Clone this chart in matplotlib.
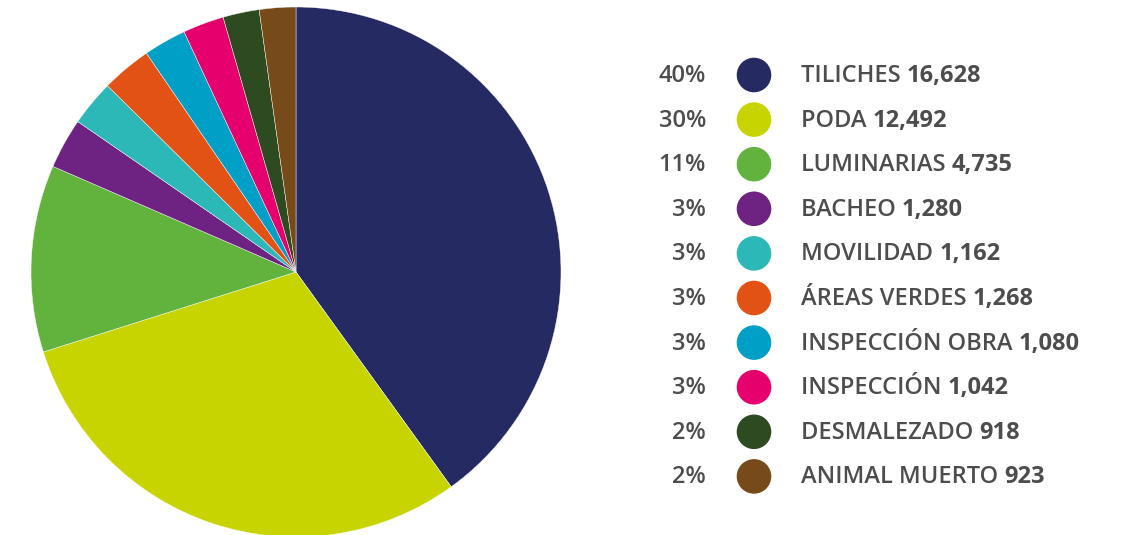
import matplotlib
matplotlib.use("Agg")
import matplotlib.pyplot as plt

# data
categories = ["TILICHES", "PODA", "LUMINARIAS", "BACHEO", "MOVILIDAD",
              "ÁREAS VERDES", "INSPECCIÓN OBRA", "INSPECCIÓN", "DESMALEZADO",
              "ANIMAL MUERTO"]
values = [16628, 12492, 4735, 1280, 1162, 1268, 1080, 1042, 918, 923]
percent_labels = ["40%", "30%", "11%", "3%", "3%", "3%", "3%", "3%", "2%", "2%"]
colors = ["#252b62", "#c8d400", "#62b33e", "#6e2282", "#2db8b8",
          "#e25214", "#00a0c6", "#e6006e", "#2d4a20", "#774a19"]

W, H = 1134, 535
text_color = "#4d4d4d"
font = "Open Sans"
fs = 17

fig = plt.figure(figsize=(W / 100, H / 100), dpi=100)

# pie: centre (296, 272) px, radius 265 px
cx, cy, r = 296, 272, 265
ax = fig.add_axes([(cx - r) / W, (H - cy - r) / H, 2 * r / W, 2 * r / H])
ax.pie(values, colors=colors, startangle=90, counterclock=False,
       wedgeprops=dict(edgecolor="white", linewidth=0.3))
ax.set_xlim(-1, 1)
ax.set_ylim(-1, 1)
ax.set_aspect("equal")
ax.axis("off")

# legend drawn in pixel coordinates
lg = fig.add_axes([0, 0, 1, 1])
lg.set_xlim(0, W)
lg.set_ylim(H, 0)
lg.axis("off")
lg.patch.set_alpha(0)

renderer = fig.canvas.get_renderer()
y0, dy = 76, 44.6
for i, (name, val, pct, col) in enumerate(zip(categories, values, percent_labels, colors)):
    y = y0 + i * dy
    lg.text(706, y, pct, ha="right", va="center", fontsize=fs,
            fontweight="semibold", family=font, color=text_color)
    lg.scatter([754], [y - 1], s=620, color=col, edgecolors="none")
    t = lg.text(801, y, name + " ", ha="left", va="center", fontsize=fs,
                fontweight="semibold", family=font, color=text_color)
    bb = t.get_window_extent(renderer=renderer)
    lg.text(bb.x1, y, f"{val:,}", ha="left", va="center", fontsize=fs,
            fontweight="bold", family=font, color=text_color)

fig.savefig("out.png", dpi=100)
